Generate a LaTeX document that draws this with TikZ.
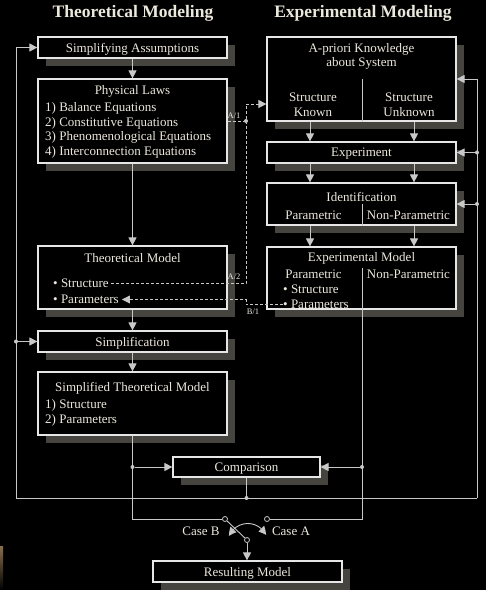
\documentclass[tikz,border=0pt]{standalone}
\usepackage{fontspec}
\setmainfont{Liberation Serif}
\usetikzlibrary{arrows.meta,bending}

\begin{document}
\begin{tikzpicture}[x=1pt, y=-1pt,
  box/.style={draw=edgecol, line width=1.2pt, fill=black, inner sep=0pt, minimum width=189pt,
    text=ink, text depth=0pt, font=\fontsize{13}{14.7}\selectfont,
    preaction={fill=shadowcol, transform canvas={xshift=8pt, yshift=-8pt}}},
  txt/.style={text=ink, inner sep=0pt, yshift=-1.5pt, font=\fontsize{13}{14.7}\selectfont},
  head/.style={text=ink, inner sep=0pt, yshift=-1pt, font=\fontsize{17.5}{20}\selectfont\bfseries},
  tag/.style={text=ink, inner sep=0pt, yshift=-1pt, font=\fontsize{8.5}{10}\selectfont},
  wire/.style={draw=wirecol, line width=0.9pt},
  flow/.style={wire, -{Triangle[length=8pt, width=8pt]}},
  hint/.style={draw=wirecol, line width=0.8pt, dash pattern=on 3pt off 2pt},
  dot/.style={circle, fill=wirecol, inner sep=0pt, minimum size=4pt},
  contact/.style={circle, draw=wirecol, fill=black, line width=0.8pt, inner sep=0pt, minimum size=5pt}]
\definecolor{edgecol}{HTML}{E6E6E6}
\definecolor{wirecol}{HTML}{C8C8C8}
\definecolor{ink}{HTML}{ECE8DC}
\definecolor{shadowcol}{HTML}{46443F}
\definecolor{barcol}{HTML}{8A6E48}
\fill[black] (0,0) rectangle (486,590);
\useasboundingbox (0,0) rectangle (486,590);
\shade[top color=barcol, bottom color=black] (0,546) rectangle (3,590);

\node[head] (theotitle) at (133,12) {Theoretical Modeling};
\node[head] (exptitle) at (363,12) {Experimental Modeling};

% theoretical side
\node[box, minimum height=21pt] (assume) at (132.5,47.5) {Simplifying Assumptions};
\node[box, minimum height=84pt] (laws) at (132.5,121) {};
\node[txt] (lawsname) at (132.5,90) {Physical Laws};
\node[txt, anchor=west, align=left] (lawslist) at (45,129) {1) Balance Equations\\2) Constitutive Equations\\3) Phenomenological Equations\\4) Interconnection Equations};
\node[box, minimum height=63pt] (theo) at (132.5,277.5) {};
\node[txt] (theoname) at (132.5,257) {Theoretical Model};
\node[txt, anchor=west] (theostruct) at (53,282) {\textbullet\ Structure};
\node[txt, anchor=west] (theoparam) at (53,298) {\textbullet\ Parameters};
\node[box, minimum height=21pt] (simpl) at (132.5,341.5) {Simplification};
\node[box, minimum height=63pt] (stm) at (132.5,403.5) {};
\node[txt] (stmname) at (132.5,387) {Simplified Theoretical Model};
\node[txt, anchor=west, align=left] (stmlist) at (45,411.5) {1) Structure\\2) Parameters};

% experimental side
\node[box, minimum height=84pt] (prior) at (361.5,79) {};
\node[txt, align=center] (priorname) at (361.5,55) {A-priori Knowledge\\about System};
\node[txt, align=center] (known) at (313,103) {Structure\\Known};
\node[txt, align=center] (unknown) at (409,103) {Structure\\Unknown};
\node[box, minimum height=21pt] (exper) at (361.5,152.5) {Experiment};
\node[box, minimum height=42pt] (ident) at (361.5,204) {};
\node[txt] (identname) at (361.5,195) {Identification};
\node[txt] (identpar) at (313.5,214) {Parametric};
\node[txt] (identnon) at (408.5,214) {Non-Parametric};
\node[box, minimum height=62pt] (emod) at (361.5,278) {};
\node[txt] (emodname) at (361.5,257) {Experimental Model};
\node[txt] (emodpar) at (313.5,273) {Parametric};
\node[txt] (emodnon) at (408.5,273) {Non-Parametric};
\node[txt, anchor=west] (emodstruct) at (283,288) {\textbullet\ Structure};
\node[txt, anchor=west] (emodparam) at (283,303) {\textbullet\ Parameters};

% bottom
\node[box, minimum width=147pt, minimum height=20pt] (comp) at (246.5,467) {Comparison};
\node[box, minimum height=21pt] (result) at (247.5,571.5) {Resulting Model};

% splits inside the boxes
\coordinate (priorsplit) at (362,79);
\coordinate (identsplit) at (362,204);
\coordinate (emodsplit) at (362,268);
\draw[wire] (priorsplit) -- (priorsplit |- prior.south);
\draw[wire] (identsplit) -- (identsplit |- ident.south);

% main flow
\draw[flow] (assume) -- (laws);
\draw[flow] (laws) -- (theo);
\draw[flow] (theo) -- (simpl);
\draw[flow] (simpl) -- (stm);
\coordinate (lcol) at (310,0);
\coordinate (rcol) at (414,0);
\draw[flow] (lcol |- prior.south) -- (lcol |- exper.north);
\draw[flow] (rcol |- prior.south) -- (rcol |- exper.north);
\draw[flow] (lcol |- exper.south) -- (lcol |- ident.north);
\draw[flow] (rcol |- exper.south) -- (rcol |- ident.north);
\draw[flow] (lcol |- ident.south) -- (lcol |- emod.north);
\draw[flow] (rcol |- ident.south) -- (rcol |- emod.north);

% switch
\node[contact] (caseb) at (225,519) {};
\node[contact] (casea) at (267,519) {};
\node[contact] (pivot) at (247,540) {};
\node[txt] (casebtxt) at (201,530) {Case B};
\node[txt] (caseatxt) at (291,530) {Case A};
\draw[wire] (stm.south) |- (caseb.west);
\draw[wire] (emodsplit) |- (casea.east);
\node[dot] (stmdot) at (stm.south |- comp.west) {};
\node[dot] (emoddot) at (emodsplit |- comp.east) {};
\draw[flow] (stmdot) -- (comp.west);
\draw[flow] (emoddot) -- (comp.east);
\draw[wire] (caseb) -- (pivot);
\draw[flow] (pivot) -- (pivot |- result.north);
\coordinate (swingb) at (229,536);
\coordinate (swinga) at (266,535);
\draw[wire, {Triangle[length=8pt, width=8pt, bend]}-{Triangle[length=8pt, width=8pt, bend]}] (swingb) .. controls (236,520) and (258,519) .. (swinga);

% feedback
\coordinate (fbleft) at (16,498);
\coordinate (fbright) at (477,498);
\node[dot] (compdot) at (comp.south |- fbleft) {};
\draw[wire] (comp.south) -- (compdot);
\draw[wire] (fbleft) -- (fbright);
\draw[flow] (fbleft) |- (assume.west);
\node[dot] (simpldot) at (fbleft |- simpl.west) {};
\draw[flow] (simpldot) -- (simpl.west);
\draw[flow] (fbright) |- (prior.east);
\node[dot] (experdot) at (fbright |- exper.east) {};
\draw[flow] (experdot) -- (exper.east);
\node[dot] (identdot) at (fbright |- ident.east) {};
\draw[flow] (identdot) -- (ident.east);

% dashed hints
\node[dot] (hintdot) at (246,121) {};
\draw[hint] (laws.east |- hintdot) -- (hintdot);
\draw[hint, -{Triangle[length=8pt, width=8pt]}] (hintdot) |- (prior.west |- 0,104);
\draw[hint] ([xshift=2pt]theostruct.east) -| (hintdot);
\draw[hint, -{Triangle[length=8pt, width=8pt]}] (emodparam.west) -- (emodparam.west -| hintdot) |- ([xshift=3pt]theoparam.east);
\node[tag] (tagaone) at (234,115) {A/1};
\node[tag] (tagatwo) at (234,276) {A/2};
\node[tag] (tagbone) at (253,311) {B/1};
\end{tikzpicture}
\end{document}
